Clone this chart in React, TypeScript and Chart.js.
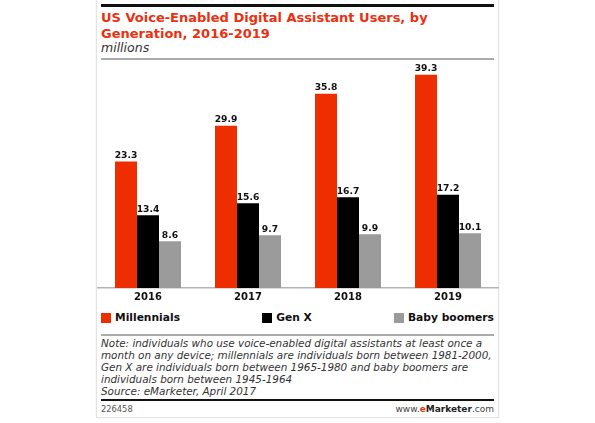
import { useEffect, useRef } from "react"
import { Chart, registerables, Plugin } from "chart.js"

Chart.register(...registerables)

// chart data
const years = ["2016", "2017", "2018", "2019"]
const millennials = [23.3, 29.9, 35.8, 39.3]
const genX = [13.4, 15.6, 16.7, 17.2]
const babyBoomers = [8.6, 9.7, 9.9, 10.1]

const seriesNames = ["Millennials", "Gen X", "Baby boomers"]
const seriesColors = ["#ee2d00", "#000000", "#9b9b9b"]

const FONT = "'DejaVu Sans', sans-serif"

// draws the value above every bar
const valueLabels: Plugin<"bar"> = {
  id: "valueLabels",
  afterDatasetsDraw(chart) {
    const ctx = chart.ctx
    ctx.save()
    ctx.font = `bold 9.2px ${FONT}`
    ctx.fillStyle = "#111"
    ctx.textAlign = "center"
    ctx.textBaseline = "bottom"
    chart.data.datasets.forEach((ds, i) => {
      const meta = chart.getDatasetMeta(i)
      meta.data.forEach((bar, j) => {
        const v = ds.data[j] as number
        ctx.fillText(v.toFixed(1), bar.x, bar.y - 1)
      })
    })
    ctx.restore()
  },
}

export default function App() {
  const chartRef = useRef<HTMLCanvasElement>(null)
  const chartInstance = useRef<Chart | null>(null)

  useEffect(() => {
    if (!chartRef.current) return
    if (chartInstance.current) chartInstance.current.destroy()
    const ctx = chartRef.current.getContext("2d")
    if (!ctx) return

    const values = [millennials, genX, babyBoomers]

    chartInstance.current = new Chart(ctx, {
      type: "bar",
      data: {
        labels: years,
        datasets: values.map((data, i) => ({
          label: seriesNames[i],
          data,
          backgroundColor: seriesColors[i],
          borderWidth: 0,
          categoryPercentage: 0.66,
          barPercentage: 1,
        })),
      },
      options: {
        animation: false,
        responsive: false,
        maintainAspectRatio: false,
        layout: { padding: { left: 8, right: 8, top: 5, bottom: 0 } },
        scales: {
          x: {
            grid: { display: false, drawTicks: false, tickLength: 0 },
            border: { display: true, color: "#b5b5b5", width: 1.5 },
            ticks: {
              color: "#111",
              padding: 3,
              font: { family: FONT, size: 10, weight: "bold" },
            },
          },
          y: {
            display: false,
            min: 0,
            max: 42,
          },
        },
        plugins: {
          legend: { display: false },
          tooltip: { enabled: false },
        },
      },
      plugins: [valueLabels],
    })

    return () => {
      if (chartInstance.current) {
        chartInstance.current.destroy()
        chartInstance.current = null
      }
    }
  }, [])

  const abs = (s: React.CSSProperties): React.CSSProperties => ({ position: "absolute", ...s })

  return (
    <div style={{ position: "fixed", left: 0, top: 0, width: 595, height: 423, background: "#fff", fontFamily: FONT }}>
      {/* card */}
      <div style={abs({ left: 96, top: -2, width: 401, height: 418, border: "1px solid #e3e3e3", boxShadow: "0 0 2px #eee" })} />
      <div style={abs({ left: 101, top: 4, width: 393, height: 3, background: "#111" })} />
      <div style={abs({ left: 101, top: 10, width: 393, color: "#ec2f10", fontWeight: "bold", fontSize: 13, lineHeight: "16px" })}>
        US Voice-Enabled Digital Assistant Users, by
        <br />
        Generation, 2016-2019
      </div>
      <div style={abs({ left: 101, top: 41, color: "#333", fontStyle: "italic", fontSize: 12.5, lineHeight: "14px" })}>millions</div>
      <div style={abs({ left: 101, top: 58, width: 393, height: 1.5, background: "#aaa" })} />

      <canvas ref={chartRef} width={416} height={251} style={abs({ left: 90, top: 55, width: 416, height: 251 })} />

      {/* legend */}
      <div style={abs({ left: 101, top: 311, width: 393, display: "flex", justifyContent: "space-between", fontWeight: "bold", fontSize: 10.7, lineHeight: "14px", color: "#111" })}>
        {seriesNames.map((name, i) => (
          <div key={name} style={{ display: "flex", alignItems: "center" }}>
            <span style={{ display: "inline-block", width: 10, height: 10, background: seriesColors[i], marginRight: 4 }} />
            {name}
          </div>
        ))}
      </div>

      <div style={abs({ left: 101, top: 334, width: 393, height: 1.5, background: "#aaa" })} />
      <div style={abs({ left: 101, top: 337, width: 400, color: "#333", fontStyle: "italic", fontSize: 10.4, lineHeight: "12px", whiteSpace: "nowrap" })}>
        Note: individuals who use voice-enabled digital assistants at least once a
        <br />
        month on any device; millennials are individuals born between 1981-2000,
        <br />
        Gen X are individuals born between 1965-1980 and baby boomers are
        <br />
        individuals born between 1945-1964
        <br />
        Source: eMarketer, April 2017
      </div>
      <div style={abs({ left: 101, top: 399, width: 393, height: 2, background: "#111" })} />
      <div style={abs({ left: 101, top: 403, color: "#555", fontSize: 8.3, lineHeight: "12px" })}>226458</div>
      <div style={abs({ right: 595 - 494, top: 403, color: "#444", fontSize: 9, lineHeight: "12px" })}>
        www.<span style={{ color: "#ec2f10", fontWeight: "bold" }}>e</span>
        <span style={{ fontWeight: "bold", color: "#222" }}>Marketer</span>.com
      </div>
    </div>
  )
}
